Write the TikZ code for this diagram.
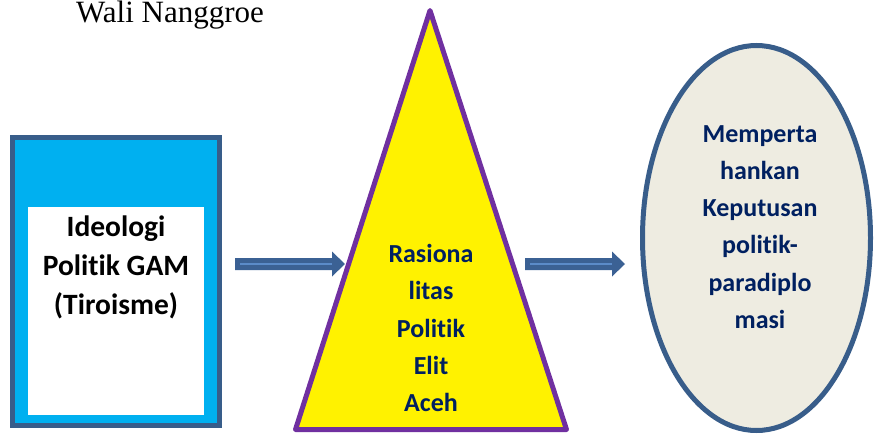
\documentclass[tikz,border=0pt]{standalone}
\usepackage{fontspec}
\setmainfont{Liberation Serif}
\newfontfamily\calfont[Ligatures=NoCommon]{Carlito}
\usetikzlibrary{shapes.geometric,calc}
\definecolor{boxblue}{HTML}{385D8A}
\definecolor{cyanfill}{HTML}{00B0F0}
\definecolor{purpleline}{HTML}{7030A0}
\definecolor{navytext}{HTML}{002060}
\definecolor{ellfill}{HTML}{EEECE1}
\definecolor{arrowfill}{HTML}{3B6194}
\definecolor{arrowhl}{HTML}{5B8BC9}
\begin{document}
\begin{tikzpicture}[x=1pt,y=-1pt,
  lbl/.style={font=\calfont\bfseries\fontsize{26}{37.3}\selectfont, align=center, inner sep=0pt},
  biglbl/.style={font=\calfont\bfseries\fontsize{29.5}{39}\selectfont, align=center, inner sep=0pt},
  arrowbody/.style={fill=arrowfill, draw=none},
  arrowline/.style={draw=arrowhl, line width=1.5pt}]
\useasboundingbox (0,0) rectangle (875,434);
% title
\node[anchor=base west, inner sep=0pt, font=\fontsize{31}{37}\selectfont] (wali) at (76,22.5) {Wali Nanggroe};
% left box
\node[draw=boxblue, line width=5.5pt, fill=cyanfill, minimum width=207pt, minimum height=288pt, inner sep=0pt] (outer) at (116,281.5) {};
\node[fill=white, minimum width=176pt, minimum height=208pt, inner sep=0pt] (inner) at (116,311) {};
\node[biglbl, text=black] (ideo) at (116,267) {Ideologi\\Politik GAM\\(Tiroisme)};
% triangle
\coordinate (tapex) at (430,10.5);
\coordinate (tleft) at (295.5,429.5);
\coordinate (tright) at (566.5,429.5);
\draw[draw=purpleline, line width=5pt, fill=yellow, line join=round] (tapex) -- (tleft) -- (tright) -- cycle;
\node[lbl, text=navytext] (rasio) at (431,328) {Rasiona\\litas\\Politik\\Elit\\Aceh};
% ellipse
\node[draw=boxblue, line width=5pt, fill=ellfill, ellipse, minimum width=228pt, minimum height=385pt, inner sep=0pt] (goal) at (756.5,238) {};
\node[lbl, text=navytext] (goaltxt) at (760,227) {Memperta\\hankan\\Keputusan\\politik-\\paradiplo\\masi};
% arrows
\coordinate (a1s) at (235,264);
\coordinate (a1e) at (345,264);
\coordinate (a2s) at (525,264);
\coordinate (a2e) at (625,264);
\foreach \s/\e in {a1s/a1e, a2s/a2e}{
  \fill[arrowbody] ($(\s)+(0,-6)$) -- ($(\e)+(-13,-6)$) -- ($(\e)+(-13,-12.5)$) -- (\e) -- ($(\e)+(-13,12.5)$) -- ($(\e)+(-13,6)$) -- ($(\s)+(0,6)$) -- cycle;
  \draw[arrowline] ($(\s)+(5,0)$) -- ($(\e)+(-13,0)$);
}
\end{tikzpicture}
\end{document}
